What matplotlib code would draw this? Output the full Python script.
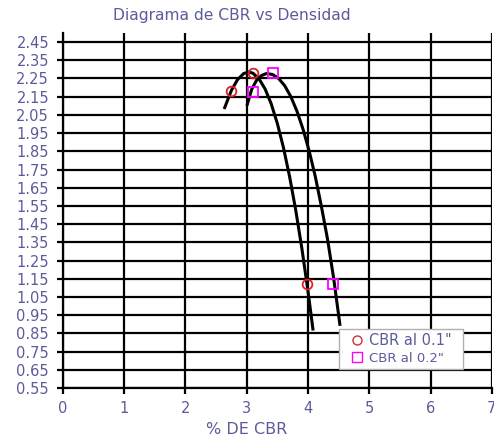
import matplotlib
matplotlib.use("Agg")
import matplotlib.pyplot as plt
from matplotlib.lines import Line2D

# ____________________ data ____________________ #

cbr01_x = [2.74, 3.10, 3.98]
cbr01_y = [2.18, 2.28, 1.12]

cbr02_x = [3.10, 3.43, 4.41]
cbr02_y = [2.175, 2.28, 1.12]

# trend curves
trend01_x = [2.64, 2.75, 2.85, 2.95, 3.03, 3.10, 3.20, 3.30, 3.40, 3.50,
             3.60, 3.70, 3.80, 3.90, 4.00, 4.08]
trend01_y = [2.090, 2.185, 2.244, 2.277, 2.285, 2.279, 2.248, 2.192, 2.110, 2.002,
             1.869, 1.710, 1.526, 1.316, 1.081, 0.874]

trend02_x = [3.01, 3.08, 3.16, 3.24, 3.32, 3.42, 3.52, 3.62, 3.72, 3.82,
             3.92, 4.02, 4.12, 4.22, 4.32, 4.42, 4.52]
trend02_y = [2.109, 2.190, 2.240, 2.266, 2.277, 2.272, 2.250, 2.210, 2.150, 2.070,
             1.970, 1.850, 1.710, 1.545, 1.365, 1.150, 0.900]

x_ticks = [0, 1, 2, 3, 4, 5, 6, 7]
y_ticks = [0.55, 0.65, 0.75, 0.85, 0.95, 1.05, 1.15, 1.25, 1.35, 1.45,
           1.55, 1.65, 1.75, 1.85, 1.95, 2.05, 2.15, 2.25, 2.35, 2.45]

text_col = "#5b5b9b"

# ____________________ plot ____________________ #

fig = plt.figure(figsize=(4.94, 4.45), dpi=100)
ax = fig.add_axes([0.1275, 0.128, 0.868, 0.798])

ax.plot(trend01_x, trend01_y, color="black", lw=2.2, zorder=3)
ax.plot(trend02_x, trend02_y, color="black", lw=2.2, zorder=3)
ax.plot(cbr01_x, cbr01_y, "o", ms=7, mfc="none", mec="#e02020", mew=1.3, zorder=4)
ax.plot(cbr02_x, cbr02_y, "s", ms=7.5, mfc="none", mec="#ff00ff", mew=1.3, zorder=4)

ax.set_xlim(0, 7)
ax.set_ylim(0.55, 2.5)
ax.set_xticks(x_ticks)
ax.set_yticks(y_ticks)
ax.set_yticklabels([f"{v:.2f}" for v in y_ticks])
ax.grid(True, color="black", lw=1.6)
ax.set_axisbelow(True)
for s in ["top", "right"]:
    ax.spines[s].set_visible(False)
for s in ["left", "bottom"]:
    ax.spines[s].set_linewidth(1.6)
ax.tick_params(direction="out", length=4, width=1.6, labelsize=10.5,
               labelcolor=text_col)
ax.tick_params(axis="x", pad=5)
ax.tick_params(axis="y", pad=6)

fig.text(0.47, 0.966, "Diagrama de CBR vs Densidad", fontsize=11.2,
         color=text_col, ha="center", va="center")
fig.text(0.5, 0.034, "% DE CBR", fontsize=11.5, color=text_col,
         ha="center", va="center")

handles = [
    Line2D([], [], marker="o", ls="none", mfc="none", mec="#d03030", ms=6.5),
    Line2D([], [], marker="s", ls="none", mfc="none", mec="#ff00ff", ms=6.5),
]
leg = ax.legend(handles, ['CBR al 0.1"', 'CBR al 0.2"'], loc="lower left",
                bbox_to_anchor=(0.643, 0.053, 0.291, 0.113), mode="expand",
                fontsize=10, handlelength=2.0, handletextpad=-0.1,
                borderpad=0.3, labelspacing=0.3, borderaxespad=0,
                fancybox=False, framealpha=1, edgecolor="#b0b0b0")
texts = leg.get_texts()
texts[0].set_fontsize(10.5)
texts[1].set_fontsize(9.5)
for t in texts:
    t.set_color(text_col)

fig.savefig("out.png", dpi=100)
